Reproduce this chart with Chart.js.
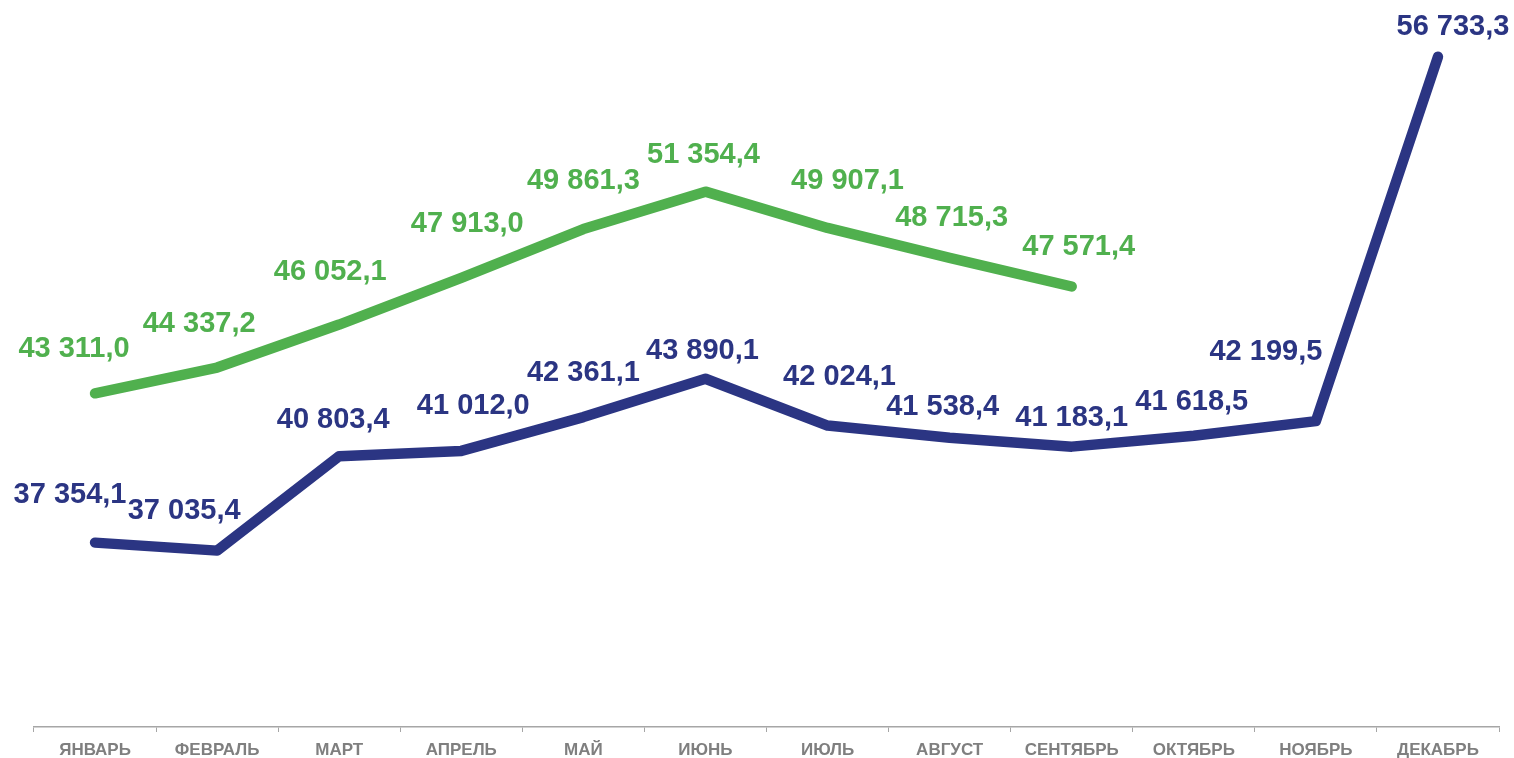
<!DOCTYPE html>
<html>
<head>
<meta charset="utf-8">
<script src="https://cdn.jsdelivr.net/npm/chart.js@4"></script>
<style>
  html, body { margin: 0; padding: 0; background: #ffffff; }
  #wrap { width: 1514px; height: 758px; position: relative; }
</style>
</head>
<body>
<div id="wrap"><canvas id="c"></canvas></div>
<script>
// ---- data ----
const months = ['ЯНВАРЬ','ФЕВРАЛЬ','МАРТ','АПРЕЛЬ','МАЙ','ИЮНЬ','ИЮЛЬ','АВГУСТ','СЕНТЯБРЬ','ОКТЯБРЬ','НОЯБРЬ','ДЕКАБРЬ'];
const seriesBlue = [37354.1, 37035.4, 40803.4, 41012.0, 42361.1, 43890.1, 42024.1, 41538.4, 41183.1, 41618.5, 42199.5, 56733.3];
const seriesGreen = [43311.0, 44337.2, 46052.1, 47913.0, 49861.3, 51354.4, 49907.1, 48715.3, 47571.4];

// ---- label placement (offsets of each value label from its point, px) ----
const labelPlacement = {
  blue:  [[-25,-49],[-33,-41],[-6,-37],[12,-46],[0,-45],[-3,-29],[12,-50],[-7,-32],[0,-30],[-2,-35],[-50,-70],[15,-31]],
  green: [[-21,-45],[-18,-45],[-9,-54],[6,-55],[0,-49],[-2,-38],[20,-48],[2,-41],[7,-40]]
};

const BLUE = '#2B3583';
const GREEN = '#50B04E';

function fmt(v) {
  const s = v.toFixed(1).split('.');
  return s[0].replace(/\B(?=(\d{3})+(?!\d))/g, ' ') + ',' + s[1];
}

const valueLabels = {
  id: 'valueLabels',
  afterDatasetsDraw(chart) {
    const ctx = chart.ctx;
    ctx.save();
    ctx.font = 'bold 29px "Liberation Sans", Arial, sans-serif';
    ctx.textAlign = 'center';
    ctx.textBaseline = 'middle';
    chart.data.datasets.forEach((ds, di) => {
      const meta = chart.getDatasetMeta(di);
      const offs = labelPlacement[ds.key];
      ctx.fillStyle = ds.borderColor;
      meta.data.forEach((pt, i) => {
        const o = offs[i] || [0, -40];
        ctx.fillText(fmt(ds.data[i]), pt.x + o[0], pt.y + o[1] + 1);
      });
    });
    ctx.restore();
  }
};

new Chart(document.getElementById('c'), {
  type: 'line',
  data: {
    labels: months,
    datasets: [
      { key: 'blue', label: '2023', data: seriesBlue, borderColor: BLUE, backgroundColor: BLUE,
        borderWidth: 10.5, borderCapStyle: 'round', borderJoinStyle: 'round', pointRadius: 0, tension: 0, clip: false },
      { key: 'green', label: '2024', data: seriesGreen, borderColor: GREEN, backgroundColor: GREEN,
        borderWidth: 10.5, borderCapStyle: 'round', borderJoinStyle: 'round', pointRadius: 0, tension: 0, clip: false }
    ]
  },
  options: {
    responsive: true,
    maintainAspectRatio: false,
    animation: false,
    layout: { padding: { left: 34, right: 15, top: 10, bottom: 0 } },
    plugins: { legend: { display: false }, tooltip: { enabled: false } },
    scales: {
      x: {
        offset: true,
        grid: { offset: true, drawOnChartArea: false, drawTicks: true, tickLength: 5, color: '#A6A6A6', lineWidth: 1 },
        border: { display: true, color: '#A6A6A6', width: 1.5 },
        ticks: { color: '#7F7F7F', padding: 8, maxRotation: 0, autoSkip: false,
                 font: { family: '"Liberation Sans", Arial, sans-serif', size: 17, weight: 'bold' } },
        afterFit(scale) { scale.height = 31; }
      },
      y: { display: false, min: 30000, max: 58600 }
    }
  },
  plugins: [valueLabels]
});
</script>
</body>
</html>
